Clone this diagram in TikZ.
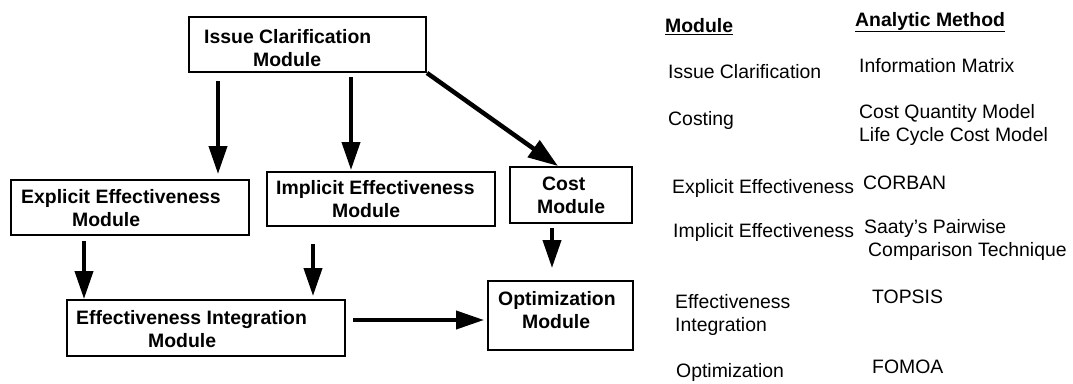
\documentclass[tikz,border=0pt]{standalone}
\usepackage{fontspec}
\setmainfont{Liberation Sans}
\usetikzlibrary{arrows.meta}
\begin{document}
\begin{tikzpicture}[x=1pt,y=-1pt,
  every node/.style={font=\fontsize{19.4}{23}\selectfont, inner sep=0pt},
  box/.style={draw, line width=2pt, inner sep=0pt},
  lbl/.style={font=\fontsize{19.4}{23}\selectfont\bfseries, align=left, anchor=west},
  entry/.style={align=left, anchor=west},
  head/.style={font=\fontsize{19.4}{23}\selectfont\bfseries, anchor=west},
  arr/.style={line width=4pt, -{Triangle[length=28pt,width=18pt]}},
]
\useasboundingbox (0,0) rectangle (1073,383);

% module boxes
\node[box, minimum width=237pt, minimum height=55pt] (ic)   at (307.5,44.5) {};
\node[box, minimum width=238pt, minimum height=55pt] (ee)   at (130,207.5) {};
\node[box, minimum width=228pt, minimum height=54pt] (ie)   at (381,199) {};
\node[box, minimum width=122pt, minimum height=56pt] (cost) at (571,195) {};
\node[box, minimum width=278pt, minimum height=56pt] (ei)   at (206,328) {};
\node[box, minimum width=145pt, minimum height=69pt] (opt)  at (560.5,315.5) {};

% box labels
\node[lbl] (ict)   at (204,48.5)  {Issue Clarification\\\hspace*{49pt}Module};
\node[lbl] (eet)   at (21,208.5)  {Explicit Effectiveness\\\hspace*{51pt}Module};
\node[lbl] (iet)   at (276,199.5) {Implicit Effectiveness\\\hspace*{56pt}Module};
\node[lbl] (costt) at (537,195.5) {\hspace*{5pt}Cost\\Module};
\node[lbl] (eit)   at (76,329.5)  {Effectiveness Integration\\\hspace*{72pt}Module};
\node[lbl] (optt)  at (498,310)   {Optimization\\\hspace*{24pt}Module};

% connector columns and rows
\coordinate (a1) at (218,0);
\coordinate (a2) at (351,0);
\coordinate (a3) at (558,0);
\coordinate (a4) at (84,0);
\coordinate (a5) at (313,0);
\coordinate (a6) at (552,0);
\coordinate (a7) at (0,320);

\draw[arr, shorten <=8pt, shorten >=5pt] (ic.south -| a1) -- (ee.north -| a1);
\draw[arr, shorten <=4pt, shorten >=1pt] (ic.south -| a2) -- (ie.north -| a2);
\draw[arr, line width=4.5pt, -{Triangle[length=30pt,width=20pt]}] (ic.south east) -- (cost.north -| a3);
\draw[arr, shorten <=5pt, shorten >=0pt] (ee.south -| a4) -- (ei.north -| a4);
\draw[arr, shorten <=17pt, shorten >=3pt] (ie.south -| a5) -- (ei.north -| a5);
\draw[arr, shorten <=4pt, shorten >=12pt] (cost.south -| a6) -- (opt.north -| a6);
\draw[arr, shorten <=7pt, shorten >=3pt] (ei.east |- a7) -- (opt.west |- a7);

% table of modules and analytic methods
\node[head] (hmod) at (665,27) {\underline{Module}};
\node[head] (hmet) at (855,22) {\underline{Analytic Method}};

\node[entry] (m1) at (668,72)    {Issue Clarification};
\node[entry] (t1) at (859,66)    {Information Matrix};
\node[entry] (m2) at (668,120)   {Costing};
\node[entry] (t2) at (859,124.5) {Cost Quantity Model\\Life Cycle Cost Model};
\node[entry] (m3) at (672,188)   {Explicit Effectiveness};
\node[entry] (t3) at (863,183)   {CORBAN};
\node[entry] (m4) at (673,232)   {Implicit Effectiveness};
\node[entry] (t4) at (864,239.5) {Saaty's Pairwise\\\hspace*{4pt}Comparison Technique};
\node[entry] (m5) at (675,314.5) {Effectiveness\\Integration};
\node[entry] (t5) at (872,297)   {TOPSIS};
\node[entry] (m6) at (676,372)   {Optimization};
\node[entry] (t6) at (872,367)   {FOMOA};
\end{tikzpicture}
\end{document}
